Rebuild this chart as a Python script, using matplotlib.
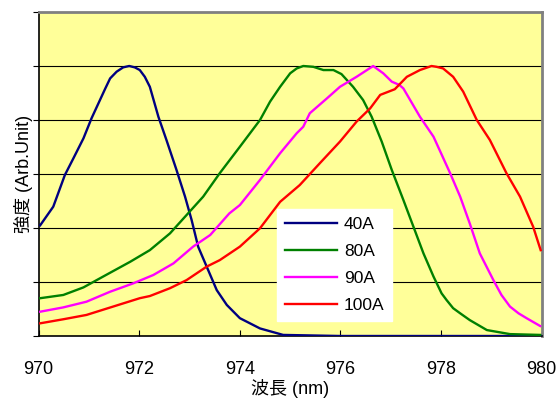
import matplotlib.pyplot as plt
import numpy as np

plt.rcParams['font.family'] = ['Liberation Sans', 'Noto Sans CJK JP', 'DejaVu Sans']

# wavelength (nm) / relative intensity
wl_40 = [970.03, 970.29, 970.52, 970.69, 970.89, 971.05, 971.32, 971.42, 971.55, 971.68,
         971.80, 971.91, 972.01, 972.11, 972.21, 972.38, 972.54, 972.74, 972.91, 973.04,
         973.17, 973.34, 973.54, 973.74, 974.0, 974.4, 974.86, 976.0, 978.0, 980.0]
in_40 = [0.41, 0.479, 0.596, 0.658, 0.732, 0.806, 0.915, 0.954, 0.979, 0.995,
         1.0, 0.995, 0.985, 0.96, 0.923, 0.812, 0.726, 0.615, 0.516, 0.43,
         0.331, 0.257, 0.170, 0.115, 0.066, 0.028, 0.004, 0.0, 0.0, 0.0]

wl_80 = [970.03, 970.49, 970.89, 971.28, 971.82, 972.21, 972.61, 972.94, 973.27,
         973.60, 974.0, 974.40, 974.60, 974.80, 974.90, 975.0, 975.13, 975.26, 975.46,
         975.66, 975.86, 976.02, 976.25, 976.45, 976.62, 976.82, 977.02, 977.25,
         977.45, 977.65, 977.85, 978.01, 978.11, 978.24, 978.38, 978.57, 978.91,
         979.37, 979.97]
in_80 = [0.140, 0.152, 0.18, 0.22, 0.275, 0.318, 0.380, 0.448, 0.516,
         0.603, 0.701, 0.8, 0.868, 0.923, 0.948, 0.973, 0.991, 1.0, 0.997,
         0.985, 0.985, 0.97, 0.923, 0.874, 0.812, 0.72, 0.615, 0.504,
         0.405, 0.306, 0.22, 0.158, 0.133, 0.103, 0.084, 0.059, 0.022,
         0.007, 0.004]

wl_90 = [970.03, 970.49, 970.95, 971.42, 971.88, 972.28, 972.68, 973.07, 973.41,
         973.79, 974.0, 974.40, 974.80, 975.13, 975.26, 975.39, 975.73, 975.99,
         976.32, 976.65, 976.85, 977.02, 977.17, 977.25, 977.58, 977.85, 978.18,
         978.38, 978.57, 978.77, 979.04, 979.20, 979.37, 979.54, 979.70, 979.97]
in_90 = [0.09, 0.106, 0.127, 0.164, 0.195, 0.226, 0.269, 0.331, 0.374,
         0.454, 0.485, 0.578, 0.677, 0.751, 0.775, 0.825, 0.880, 0.923,
         0.960, 1.0, 0.973, 0.942, 0.930, 0.917, 0.812, 0.738, 0.603,
         0.516, 0.417, 0.306, 0.207, 0.152, 0.109, 0.084, 0.066, 0.037]

wl_100 = [970.03, 970.49, 970.95, 971.48, 972.01, 972.21, 972.61, 972.94, 973.34,
          973.60, 974.0, 974.40, 974.80, 975.19, 975.59, 975.99, 976.32, 976.59,
          976.79, 977.08, 977.32, 977.58, 977.81, 977.91, 978.04, 978.24, 978.44,
          978.71, 978.97, 979.30, 979.57, 979.83, 979.98]
in_100 = [0.047, 0.062, 0.078, 0.109, 0.140, 0.148, 0.177, 0.207, 0.257,
          0.281, 0.331, 0.399, 0.497, 0.559, 0.640, 0.720, 0.794, 0.843,
          0.893, 0.914, 0.960, 0.985, 1.0, 0.997, 0.991, 0.960, 0.905,
          0.8, 0.726, 0.603, 0.516, 0.405, 0.318]

labels = ['40A', '80A', '90A', '100A']
colors = ['#000080', '#008000', '#FF00FF', '#FF0000']
xticks = [970, 972, 974, 976, 978, 980]

fig = plt.figure(figsize=(5.59, 4.0), dpi=100)
ax = fig.add_axes([0.0692, 0.16, 0.8998, 0.81])
ax.set_facecolor('#FFFF99')

series = [(wl_40, in_40), (wl_80, in_80), (wl_90, in_90), (wl_100, in_100)]
for (x, y), lab, c in zip(series, labels, colors):
    ax.plot(x, y, color=c, lw=1.7, label=lab, zorder=3)

ax.set_xlim(970, 980)
ax.set_ylim(0, 1.2)
ax.set_xticks(xticks)
ax.set_yticks(np.arange(0, 1.21, 0.2))
ax.set_yticklabels([])
ax.tick_params(axis='x', direction='in', length=4, labelsize=13, pad=18)
ax.tick_params(axis='y', direction='out', length=4)
for yv in [0.2, 0.4, 0.6, 0.8, 1.0]:
    ax.axhline(yv, color='black', lw=0.8, zorder=1)

for s in ['top', 'right']:
    ax.spines[s].set_color('#808080')
    ax.spines[s].set_linewidth(2)
for s in ['left', 'bottom']:
    ax.spines[s].set_color('black')
    ax.spines[s].set_linewidth(1.2)

ax.set_xlabel('波長 (nm)', fontsize=13, labelpad=1)
ax.set_ylabel('強度 (Arb.Unit)', fontsize=13)
ax.yaxis.set_label_coords(-0.012, 0.5)

leg = ax.legend(loc='upper left', bbox_to_anchor=(0.4738, 0.392),
                frameon=True, fancybox=False, framealpha=1,
                edgecolor='white', facecolor='white', fontsize=12.5,
                handlelength=3.0, handletextpad=0.4, labelspacing=0.68,
                borderpad=0.45, borderaxespad=0)
leg.set_zorder(5)

fig.savefig('out.png', dpi=100)
